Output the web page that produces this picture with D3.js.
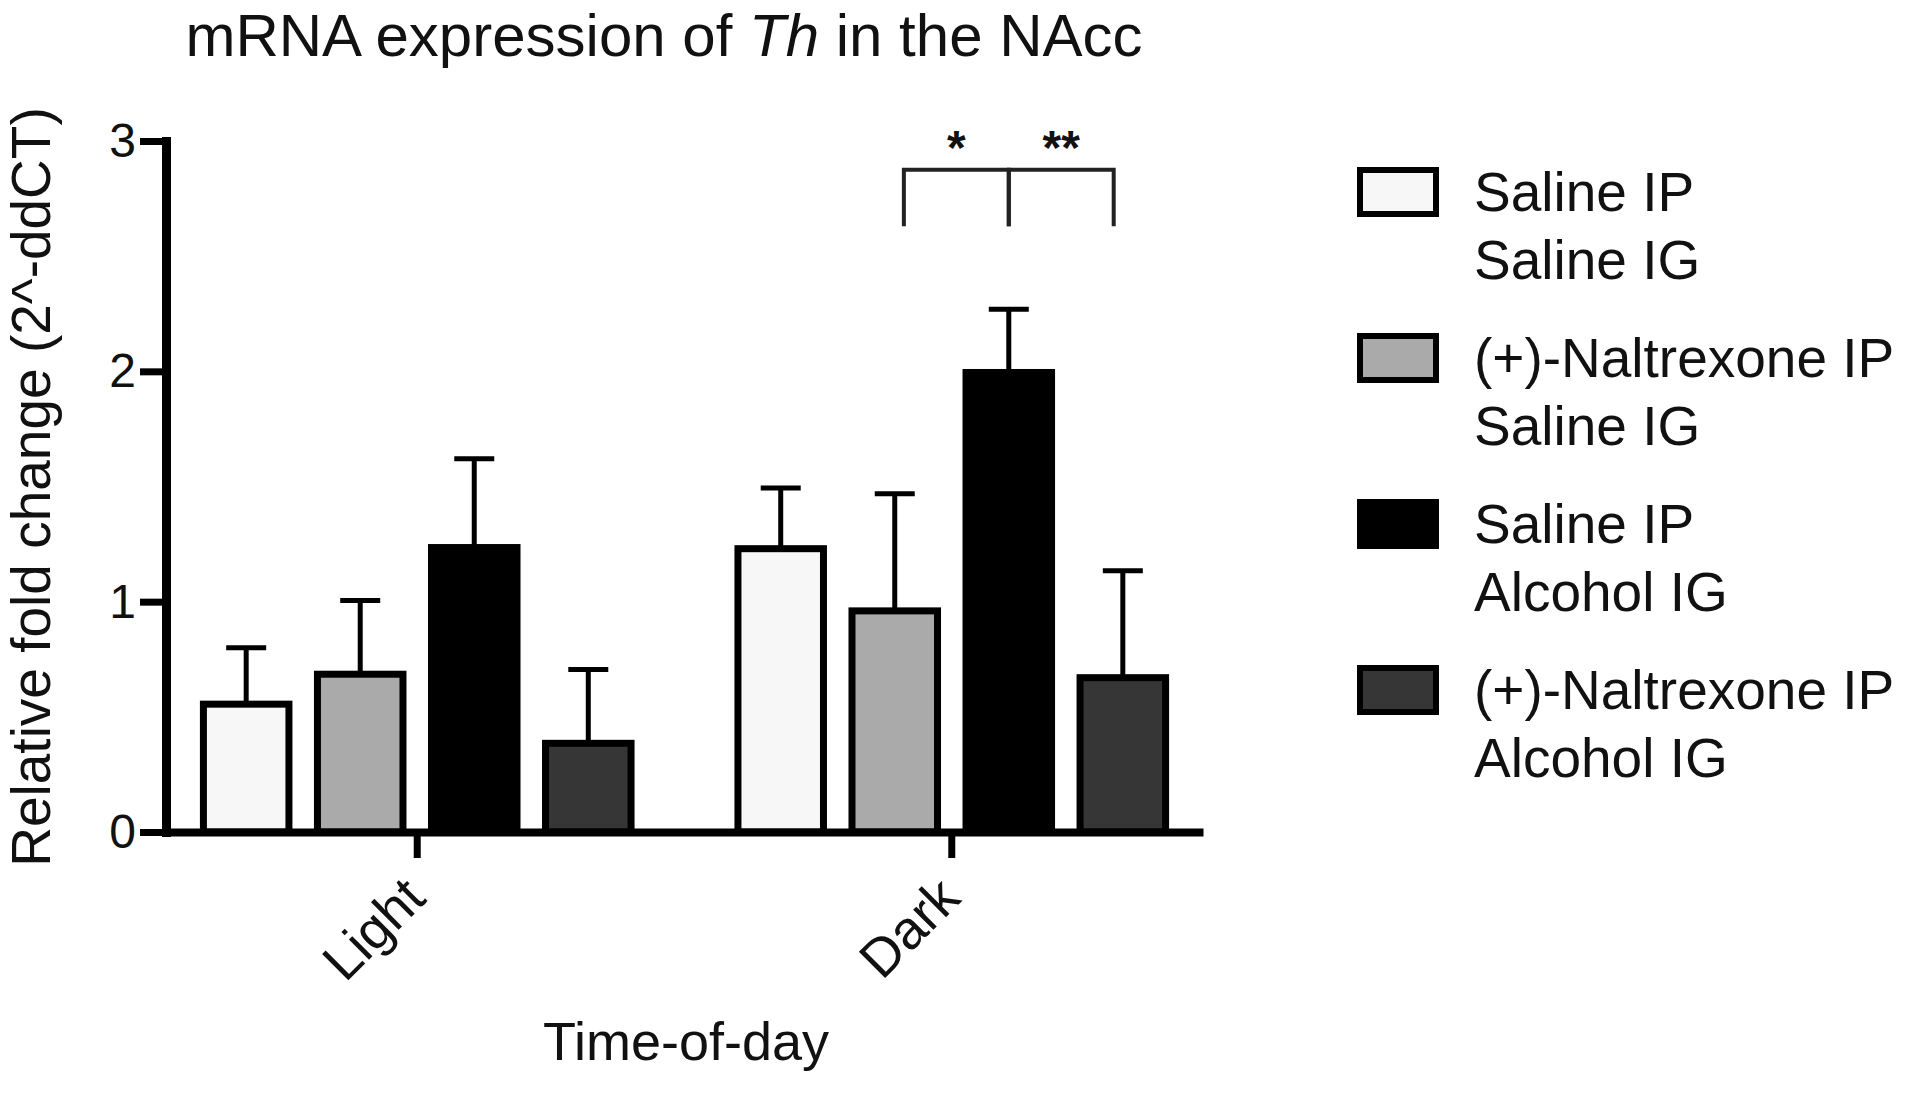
<!DOCTYPE html>
<html><head><meta charset="utf-8">
<script src="https://cdn.jsdelivr.net/npm/d3@7"></script>
<style>
body{margin:0;background:#fff;}
text{font-family:"Liberation Sans",Arial,Helvetica,sans-serif;fill:#111;}
</style>
</head><body>
<svg id="chart" width="1920" height="1100"></svg>
<script>
// ---- data ----
const groups = ["Light", "Dark"];
const seriesLabels = [
  ["Saline IP", "Saline IG"],
  ["(+)-Naltrexone IP", "Saline IG"],
  ["Saline IP", "Alcohol IG"],
  ["(+)-Naltrexone IP", "Alcohol IG"]
];
const seriesColors = ["#f7f7f7", "#aaaaaa", "#000000", "#363636"];
const lightMeans = [0.555, 0.685, 1.235, 0.385];
const lightSEM   = [0.245, 0.320, 0.385, 0.320];
const darkMeans  = [1.230, 0.960, 1.995, 0.670];
const darkSEM    = [0.264, 0.508, 0.275, 0.464];
const yTicks = [0, 1, 2, 3];
const sigGroup = "Dark";
const sigCenterBar = 2;           // bracket joins here
const sigComparisons = [
  {from: 1, to: 2, label: "*"},
  {from: 2, to: 3, label: "**"}
];
const sigBracketTop = 2.875, sigBracketBottom = 2.63;
const titleText = ["mRNA expression of ", "Th", " in the NAcc"];
const yTitle = "Relative fold change (2^-ddCT)";
const xTitle = "Time-of-day";

// ---- layout ----
const P = {left: 166, right: 1203, top: 141, bottom: 832};
const svg = d3.select("#chart");

const meansBy = {Light: lightMeans, Dark: darkMeans};
const semBy = {Light: lightSEM, Dark: darkSEM};
const rows = [];
groups.forEach(g => meansBy[g].forEach((m, i) => rows.push({group: g, i, mean: m, sem: semBy[g][i]})));

const y = d3.scaleLinear().domain([0, 3]).range([P.bottom, P.top]);
const x0 = d3.scaleBand().domain(groups).range([P.left, P.right]).paddingInner(0.2).paddingOuter(0.07);
const x1 = d3.scaleBand().domain(d3.range(seriesLabels.length)).range([0, x0.bandwidth()]).paddingInner(0.25);
const cx = d => x0(d.group) + x1(d.i) + x1.bandwidth() / 2;

// error bars (upper only)
const capW = 40;
const eb = svg.append("g").attr("stroke", "#000").attr("stroke-width", 5);
eb.selectAll("line.v").data(rows).join("line").attr("class", "v")
  .attr("x1", cx).attr("x2", cx).attr("y1", d => y(d.mean)).attr("y2", d => y(d.mean + d.sem));
eb.selectAll("line.c").data(rows).join("line").attr("class", "c")
  .attr("x1", d => cx(d) - capW / 2).attr("x2", d => cx(d) + capW / 2)
  .attr("y1", d => y(d.mean + d.sem)).attr("y2", d => y(d.mean + d.sem));

// bars
svg.append("g").selectAll("rect").data(rows).join("rect")
  .attr("x", d => x0(d.group) + x1(d.i))
  .attr("y", d => y(d.mean))
  .attr("width", x1.bandwidth())
  .attr("height", d => y(0) - y(d.mean))
  .attr("fill", d => seriesColors[d.i])
  .attr("stroke", "#000").attr("stroke-width", 7);

// axes
const ya = svg.append("g").attr("transform", `translate(${P.left},0)`)
  .call(d3.axisLeft(y).tickValues(yTicks).tickFormat(d3.format("d")).tickSize(26).tickSizeOuter(0).tickPadding(4));
ya.select(".domain").attr("stroke", "#000").attr("stroke-width", 9).attr("stroke-linecap", "square");
ya.selectAll(".tick line").attr("stroke", "#000").attr("stroke-width", 7);
ya.selectAll(".tick text").attr("font-size", 48).attr("fill", "#111")
  .style("font-family", '"Liberation Sans",Arial,sans-serif');

const xa = svg.append("g").attr("transform", `translate(0,${P.bottom})`)
  .call(d3.axisBottom(x0).tickSize(26).tickSizeOuter(0));
xa.select(".domain").attr("stroke", "#000").attr("stroke-width", 8);
xa.selectAll(".tick line").attr("stroke", "#000").attr("stroke-width", 7);
xa.selectAll(".tick text").remove();
xa.selectAll(".tick").append("text")
  .attr("transform", "translate(-16,42) rotate(-45)")
  .attr("text-anchor", "end").attr("dy", "0.7em")
  .attr("font-size", 54).attr("fill", "#111")
  .style("font-family", '"Liberation Sans",Arial,sans-serif')
  .text(d => d);

// significance brackets (legs pulled slightly toward the shared centre leg)
const sg = svg.append("g");
const midX = cx({group: sigGroup, i: sigCenterBar});
const legX = i => midX + (cx({group: sigGroup, i}) - midX) * 0.92;
sigComparisons.forEach(c => {
  const xa_ = legX(c.from), xb_ = legX(c.to);
  sg.append("path")
    .attr("d", `M${xa_},${y(sigBracketBottom)}V${y(sigBracketTop)}H${xb_}V${y(sigBracketBottom)}`)
    .attr("fill", "none").attr("stroke", "#222").attr("stroke-width", 4);
  sg.append("text").attr("x", (xa_ + xb_) / 2).attr("y", y(sigBracketTop) - 6)
    .attr("text-anchor", "middle").attr("font-size", 48).attr("font-weight", "bold")
    .text(c.label);
});

// title
const t = svg.append("text").attr("x", 664).attr("y", 56).attr("text-anchor", "middle").attr("font-size", 60);
titleText.forEach((s, k) => t.append("tspan").attr("font-style", k === 1 ? "italic" : "normal").text(s));

// axis titles
svg.append("text").attr("transform", "translate(50,487) rotate(-90)")
  .attr("text-anchor", "middle").attr("font-size", 55).text(yTitle);
svg.append("text").attr("x", 686).attr("y", 1060)
  .attr("text-anchor", "middle").attr("font-size", 54).text(xTitle);

// legend
const lg = svg.append("g").attr("transform", "translate(1357,192)");
const li = lg.selectAll("g").data(seriesLabels).join("g")
  .attr("transform", (d, i) => `translate(0,${i * 166})`);
li.append("rect").attr("x", 3).attr("y", -22).attr("width", 76).attr("height", 44)
  .attr("fill", (d, i) => seriesColors[i]).attr("stroke", "#000").attr("stroke-width", 6);
li.each(function(d) {
  const g = d3.select(this);
  d.forEach((line, k) => g.append("text").attr("x", 117).attr("y", 19 + k * 68)
    .attr("font-size", 55).text(line));
});
</script>
</body></html>
